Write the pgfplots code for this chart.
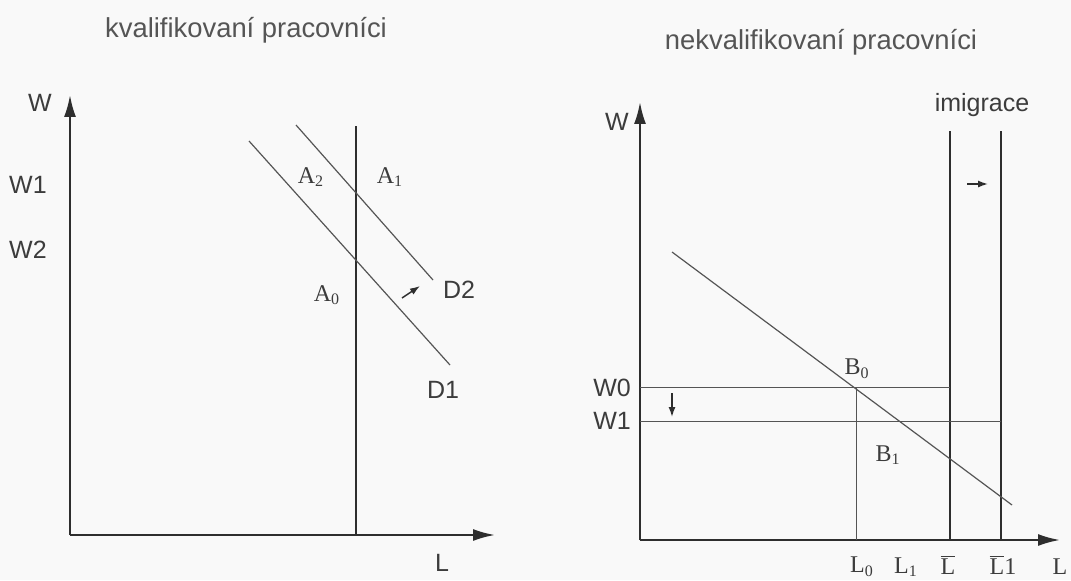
\documentclass[border=0pt]{standalone}
\usepackage{pgfplots}
\pgfplotsset{compat=1.18}
\usepackage{fontspec}
\setmainfont{Liberation Sans}
\newfontfamily\serif{Liberation Serif}
\usetikzlibrary{arrows.meta}

\definecolor{ink}{HTML}{2E2E2E}
\definecolor{txt}{HTML}{3C3C3C}
\definecolor{lgray}{HTML}{555555}
\definecolor{paper}{HTML}{F9F9F9}

\tikzset{
  lab/.style={font=\fontsize{12.5}{12.5}\selectfont, text=txt},
  slab/.style={font=\fontsize{12}{12}\serif, text=txt},
  ttl/.style={font=\fontsize{13.7}{13.7}\selectfont, text=lgray},
  dcurve/.style={draw=lgray, line width=0.6pt},
  guide/.style={draw=lgray, line width=0.5pt},
  move/.style={draw=ink, line width=0.7pt, -{Latex[length=5pt,width=3.5pt]}},
}

% 1 px of the reference = 0.5pt, y measured upwards from the bottom
\pgfplotsset{
  panel/.style={
    x=0.5pt, y=0.5pt, enlargelimits=false, axis lines=left,
    axis line style={ink, line width=1.1pt, -{Latex[length=11pt,width=6pt]}},
    ticks=none, clip=false, anchor=south west,
  },
}

\begin{document}
\begin{tikzpicture}
\fill[paper] (0,0) rectangle (535.5pt,290pt);
\useasboundingbox (0,0) rectangle (535.5pt,290pt);

% ---- skilled workers
\begin{axis}[panel, xmin=70, xmax=495, ymin=45, ymax=485, at={(35pt,22.5pt)}]
  \addplot[ink, line width=0.9pt] coordinates {(356,45) (356,454)};
  \addplot[dcurve] coordinates {(249,439) (450,215)}; % D1
  \addplot[dcurve] coordinates {(296,455) (433,300)}; % D2
  \addplot[move] coordinates {(402,282) (420,294)};

  \node[ttl] at (axis cs:246,550) {kvalifikovaní pracovníci};
  \node[lab] at (axis cs:40,477) {W};
  \node[lab] at (axis cs:28,395) {W1};
  \node[lab] at (axis cs:28,330) {W2};
  \node[slab] at (axis cs:311,403) {A\textsubscript{2}};
  \node[slab] at (axis cs:390,403) {A\textsubscript{1}};
  \node[slab] at (axis cs:327,285) {A\textsubscript{0}};
  \node[lab] at (axis cs:459,290) {D2};
  \node[lab] at (axis cs:443,190) {D1};
  \node[lab] at (axis cs:442,17) {L};
\end{axis}

% ---- unskilled workers
\begin{axis}[panel, xmin=640, xmax=1060, ymin=40, ymax=478, at={(320pt,20pt)}]
  \addplot[ink, line width=1.1pt] coordinates {(950,40) (950,449)};
  \addplot[ink, line width=1.1pt] coordinates {(1001,40) (1001,449)};
  \addplot[dcurve] coordinates {(672,328) (1012,75)};
  \addplot[guide] coordinates {(640,193) (950,193)};
  \addplot[guide] coordinates {(640,159) (1001,159)};
  \addplot[guide] coordinates {(856,40) (856,193)};
  \addplot[move] coordinates {(672,187) (672,163)};
  \addplot[move] coordinates {(967,396) (988,396)};

  \node[ttl] at (axis cs:821,538) {nekvalifikovaní pracovníci};
  \node[lab] at (axis cs:982,475) {imigrace};
  \node[lab] at (axis cs:617,458) {W};
  \node[lab] at (axis cs:612,192) {W0};
  \node[lab] at (axis cs:612,159) {W1};
  \node[slab] at (axis cs:857,211) {B\textsubscript{0}};
  \node[slab] at (axis cs:888,125) {B\textsubscript{1}};
  \node[slab] at (axis cs:862,13) {L\textsubscript{0}};
  \node[slab] at (axis cs:906,13) {L\textsubscript{1}};
  \node[slab] at (axis cs:948,15) {$\overline{\hbox{\fontsize{12}{12}\serif L}}$};
  \node[slab] at (axis cs:1003,15) {$\overline{\hbox{\fontsize{12}{12}\serif L}}$1};
  \node[slab] at (axis cs:1060,13) {L};
\end{axis}
\end{tikzpicture}
\end{document}
